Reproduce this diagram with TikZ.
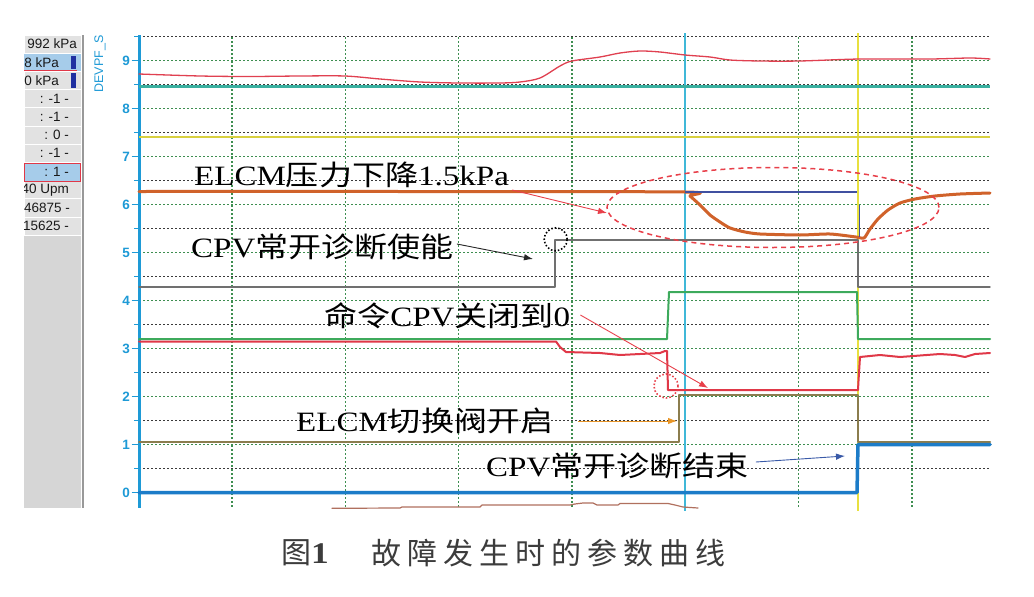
\documentclass[tikz,border=0pt]{standalone}
\usepackage{fontspec}
\setmainfont{Liberation Serif}[FakeStretch=1.18]
\newfontfamily\cjk{Noto Sans CJK SC}[FakeStretch=1.18]
\newfontfamily\sanspanneau{Liberation Sans}
\newfontfamily\cjklegende{Noto Sans CJK SC}
\usetikzlibrary{arrows.meta,shapes.geometric}
\newcommand{\zh}[1]{{\cjk #1}}
\definecolor{bleuaxe}{HTML}{1E9AD6}
\definecolor{vertgrille}{HTML}{3E8E50}
\definecolor{noirgrille}{HTML}{3A3A3A}
\definecolor{cyancurseur}{HTML}{40B8D8}
\definecolor{jaunecurseur}{HTML}{E8E040}
\definecolor{rougehaut}{HTML}{E04050}
\definecolor{turquoise}{HTML}{3AB0A0}
\definecolor{jaunetrait}{HTML}{D8D040}
\definecolor{orangeepais}{HTML}{D0622A}
\definecolor{marine}{HTML}{4050A0}
\definecolor{grisligne}{HTML}{707070}
\definecolor{vertligne}{HTML}{3DAA5C}
\definecolor{rougeligne}{HTML}{E03848}
\definecolor{olive}{HTML}{8B7D4E}
\definecolor{bleuepais}{HTML}{1C7CC8}
\definecolor{brunbas}{HTML}{B0705E}
\definecolor{rougefleche}{HTML}{E8404A}
\definecolor{orangefleche}{HTML}{E89628}
\definecolor{bleufleche}{HTML}{3A5AA8}
\definecolor{fondpanneau}{HTML}{D6D6D6}
\definecolor{caseclaire}{HTML}{E2E2E2}
\definecolor{caseselection}{HTML}{A6CCEA}
\definecolor{marqueur}{HTML}{2030A0}
\definecolor{grislegende}{HTML}{3C3C3C}
\begin{document}
\begin{tikzpicture}[x=1pt,y=-1pt]
			\tikzstyle{fleche}=[->,>={Latex[length=9pt,width=6.5pt]},line width=0.9pt]
			\tikzstyle{etiquette}=[inner sep=0pt,anchor=base west,font=\fontsize{28}{30}\selectfont]
			\tikzstyle{grilleverte}=[draw=vertgrille,line width=1.2pt,dash pattern=on 2.3pt off 1.7pt]
			\tikzstyle{grillenoire}=[draw=noirgrille,line width=1.2pt,dash pattern=on 2.3pt off 1.7pt]
			\tikzstyle{ligne}=[inner sep=0pt,anchor=east,text=black!90,font=\sanspanneau\fontsize{13.5}{14}\selectfont]
			\tikzstyle{graduation}=[inner sep=0pt,anchor=east,text=bleuaxe,font=\sanspanneau\bfseries\fontsize{13.5}{14}\selectfont]
			\tikzstyle{courbe}=[line join=round,line cap=round]
			\tikzstyle{legende}=[inner sep=0pt,text=grislegende,font=\cjklegende\fontsize{30}{32}\selectfont]
			\def\Yzero{492.5}
			\def\Yunite{48}
			\fill[white] (0,0) rectangle (1034,597);
			\useasboundingbox (0,0) rectangle (1034,597);
			% panneau de gauche
			\fill[fondpanneau] (24,35) rectangle (81,508);
			\begin{scope}
				\clip (24,35) rectangle (81,508);
				\foreach \k in {0,...,10}
					\draw[white,line width=0.8pt,fill=caseclaire] (24,{35+18.2*\k}) rectangle (81,{35+18.2*(\k+1)});
				\fill[caseselection] (24,53.6) rectangle (81,70.6);
				\draw[rougeligne,line width=1pt] (24,70.6) -- (77,70.6);
				\fill[marqueur] (71,56) rectangle (76,69.3);
				\fill[marqueur] (71,73) rectangle (76,88);
				\draw[rougeligne,line width=1pt,fill=caseselection] (24,163) rectangle (80.5,181.6);
				\foreach \txt/\xr [count=\k from 0] in {992 kPa/77,8 kPa/59,0 kPa/59,: -1 -/69,: -1 -/69,: 0 -/69,: -1 -/69,: 1 -/69,40 Upm/69,46875 -/70,15625 -/69}
					\node[ligne] (ligne\k) at (\xr,{44.1+18.2*\k}) {\txt};
			\end{scope}
			\draw[gray!80,line width=1.5pt] (83,35) -- (83,508);
			% grille
			\foreach \v in {0.5,1.5,...,9.5}
				\draw[grillenoire] (139,{\Yzero-\Yunite*\v}) -- (990,{\Yzero-\Yunite*\v});
			\foreach \v in {1,...,9}
				\draw[grilleverte] (139,{\Yzero-\Yunite*\v}) -- (990,{\Yzero-\Yunite*\v});
			\foreach \x in {232,345.3,458.7,572,798.7,912}
				\draw[grilleverte] (\x,37) -- (\x,508);
			% axe
			\draw[bleuaxe,line width=3pt] (139,35) -- (139,508);
			\foreach \v in {0,...,9} {
				\draw[bleuaxe,line width=1.3pt] (131.5,{\Yzero-\Yunite*\v}) -- (139,{\Yzero-\Yunite*\v});
				\node[graduation] (grad\v) at (130,{\Yzero-\Yunite*\v}) {\v};
			}
			\foreach \v in {0.5,1.5,...,9.5}
				\draw[bleuaxe,line width=1.1pt] (134,{\Yzero-\Yunite*\v}) -- (139,{\Yzero-\Yunite*\v});
			\node[rotate=90,inner sep=0pt,text=bleuaxe,font=\sanspanneau\fontsize{12.5}{13}\selectfont] (titreAxe) at (100,64) {DEVPF\_S};
			% curseurs
			\draw[cyancurseur,line width=1.5pt] (685,33) -- (685,511);
			\draw[jaunecurseur,line width=1.5pt] (858,33) -- (858,511);
			% courbes
			\draw[courbe,rougehaut,line width=1.3pt] plot[smooth,tension=0.5] coordinates {(139,74) (200,76) (250,76.5) (300,76) (345,76) (380,79) (420,82) (458,83) (500,83) (520,82) (540,78) (560,66) (572,61) (600,57) (620,53) (640,51) (660,52) (685,55) (710,57) (730,60) (760,61) (800,61) (860,59) (930,59) (970,58) (990,59)};
			\draw[turquoise,line width=3pt] (139,86) -- (990,86);
			\draw[jaunetrait,line width=2pt] (139,137.3) -- (990,137.3);
			\draw[courbe,orangeepais,line width=3pt] plot[smooth,tension=0.4] coordinates {(139,191.5) (400,191.5) (685,192) (690,196) (700,205) (710,215) (720,222) (730,228) (745,232) (760,234) (800,235) (830,234) (856,237) (864,238) (870,229) (878,219) (888,210) (900,203) (915,199) (935,196) (960,194) (990,193)};
			\draw[marine,line width=1.5pt] (685,192) -- (857,192);
			\draw[marine,line width=1.5pt] (859.5,205) -- (859.5,237);
			\draw[courbe,grisligne,line width=1.4pt] (139,287) -- (555,287) -- (555,240) -- (858,240) -- (858,287) -- (990,287);
			\draw[courbe,vertligne,line width=2pt] (139,339) -- (667,339) -- (669,292) -- (857,292) -- (858,339) -- (990,339);
			\draw[courbe,rougeligne,line width=2pt] (139,341.5) -- (556,341.5) -- (560,347) -- (566,352) -- (600,353) -- (620,355) -- (640,354) -- (660,353) -- (665,351) -- (667,351) -- (668,390) -- (858,390) -- (858.5,381) -- (860,357) -- (880,355) -- (900,357) -- (920,355.5) -- (940,354) -- (955,355) -- (965,357) -- (975,354) -- (990,353);
			\draw[courbe,olive,line width=2pt] (139,441.5) -- (679,441.5) -- (679,394.5) -- (858,394.5) -- (858,441.5) -- (990,441.5);
			\draw[courbe,bleuepais,line width=3.5pt] (139,492.5) -- (857,492.5) -- (858,444.5) -- (990,444.5);
			\draw[courbe,brunbas,line width=1.2pt] (332,508.3) -- (400,508) -- (402,507) -- (480,507) -- (482,505) -- (570,505) -- (575,504) -- (583,503) -- (593,503) -- (597,505) -- (618,505) -- (620,503.5) -- (668,503.5) -- (675,505) -- (683,507) -- (698,508);
			% reperes
			\node[ellipse,draw=rougefleche,line width=1.5pt,dash pattern=on 5pt off 4pt,minimum width=332pt,minimum height=80pt,inner sep=0pt] (zonePression) at (773,207.5) {};
			\node[circle,draw=black,line width=1.6pt,dash pattern=on 1.5pt off 2pt,minimum size=23pt,inner sep=0pt] (cercleActivation) at (555.7,239.3) {};
			\node[circle,draw=rougefleche,line width=1.6pt,dash pattern=on 1.5pt off 2pt,minimum size=24pt,inner sep=0pt] (cercleCommande) at (666,386) {};
			% etiquettes
			\node[etiquette] (lblPression) at (194,185) {ELCM\zh{压力下降}1.5kPa};
			\node[etiquette] (lblActivation) at (191,257) {CPV\zh{常开诊断使能}};
			\node[etiquette] (lblCommande) at (324,326) {\zh{命令}CPV\zh{关闭到}0};
			\node[etiquette] (lblVanne) at (296,431.5) {ELCM\zh{切换阀开启}};
			\node[etiquette] (lblFin) at (486,476.5) {CPV\zh{常开诊断结束}};
			\coordinate (pointeEllipse) at (607,213);
			\coordinate (pointeActivation) at (533,259);
			\coordinate (pointeCommande) at (708,388);
			\coordinate (pointeVanne) at (677,421);
			\coordinate (pointeFin) at (845,456);
			\draw[fleche,rougefleche] ([shift={(3pt,-5pt)}]lblPression.base east) -- (pointeEllipse);
			\draw[fleche,black!85] ([shift={(3pt,13pt)}]lblActivation.base east) -- (pointeActivation);
			\draw[fleche,rougefleche] ([shift={(10pt,11pt)}]lblCommande.base east) -- (pointeCommande);
			\draw[fleche,orangefleche] ([shift={(25pt,10.5pt)}]lblVanne.base east) -- (pointeVanne);
			\draw[fleche,bleufleche] ([shift={(7pt,14.5pt)}]lblFin.base east) -- (pointeFin);
			% legende
			\node[legende] (legFig) at (296,553) {图};
			\node[legende,font=\bfseries\fontsize{30}{32}\selectfont] (legNum) at (320,553.5) {1};
			\foreach \c [count=\i from 0] in {故,障,发,生,时,的,参,数,曲,线}
				\node[legende] (leg\i) at ({386+36.1*\i},553) {\c};
		\end{tikzpicture}
\end{document}
